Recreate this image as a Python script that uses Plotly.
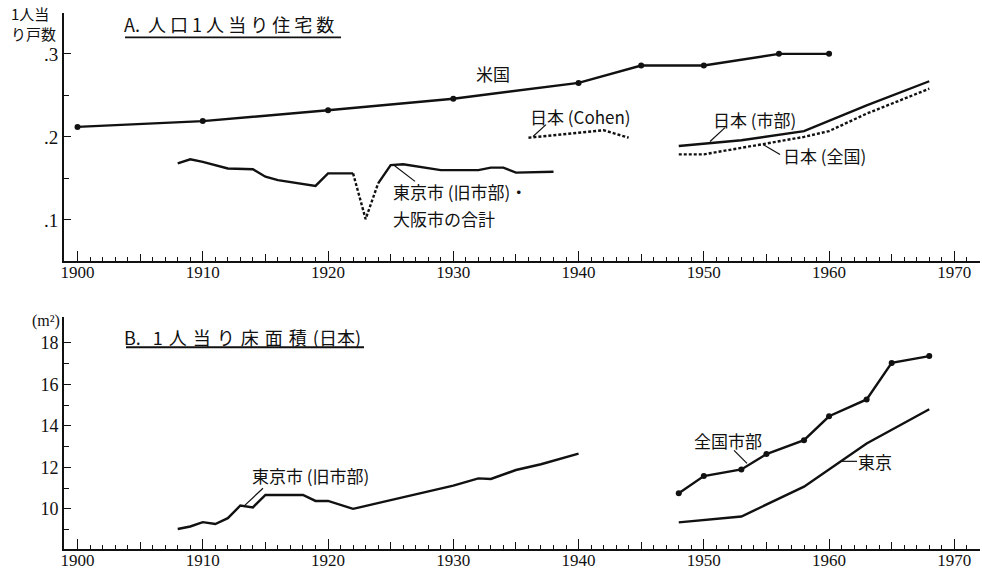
import plotly.graph_objects as go

# ---------------- Panel A: 人口1人当り住宅数 ----------------
us_years = [1900, 1910, 1920, 1930, 1940, 1945, 1950, 1956, 1960]
us_vals = [0.212, 0.219, 0.232, 0.246, 0.265, 0.286, 0.286, 0.300, 0.300]

cohen_years = [1936, 1938, 1940, 1942, 1944]
cohen_vals = [0.199, 0.202, 0.205, 0.208, 0.199]

jp_city_years = [1948, 1953, 1958, 1963, 1968]
jp_city_vals = [0.189, 0.196, 0.207, 0.238, 0.267]

jp_all_years = [1948, 1950, 1955, 1958, 1960, 1963, 1968]
jp_all_vals = [0.179, 0.179, 0.192, 0.200, 0.207, 0.228, 0.258]

to_years = [1908, 1909, 1910, 1912, 1914, 1915, 1916, 1919, 1920, 1922,
            1923, 1924, 1925, 1926, 1929, 1932, 1933, 1934, 1935, 1938]
to_vals = [0.168, 0.173, 0.170, 0.162, 0.161, 0.152, 0.148, 0.141, 0.156, 0.156,
           0.101, 0.144, 0.166, 0.167, 0.160, 0.160, 0.163, 0.163, 0.157, 0.158]
to_gap_start = 1922   # dotted section (1923 earthquake)
to_gap_end = 1924

# ---------------- Panel B: 1人当り床面積 ----------------
tko_old_years = [1908, 1909, 1910, 1911, 1912, 1913, 1914, 1915, 1918, 1919,
                 1920, 1922, 1925, 1928, 1930, 1932, 1933, 1935, 1937, 1940]
tko_old_vals = [9.03, 9.15, 9.36, 9.27, 9.55, 10.16, 10.07, 10.67, 10.67, 10.38,
                10.38, 10.0, 10.42, 10.86, 11.12, 11.47, 11.44, 11.87, 12.15, 12.66]

nat_city_years = [1948, 1950, 1953, 1955, 1958, 1960, 1963, 1965, 1968]
nat_city_vals = [10.75, 11.58, 11.9, 12.64, 13.31, 14.46, 15.27, 17.03, 17.36]

tokyo_years = [1948, 1953, 1958, 1963, 1968]
tokyo_vals = [9.35, 9.63, 11.07, 13.15, 14.8]

x_ticks = [1900, 1910, 1920, 1930, 1940, 1950, 1960, 1970]
a_ticks = [0.1, 0.2, 0.3]
a_ticktext = [".1", ".2", ".3"]
b_ticks = [10, 12, 14, 16, 18]

W, H = 982, 572
ML, MR, MT, MB = 64, 2, 13, 21
PW, PH = W - ML - MR, H - MT - MB


def px(x):
    return (x - ML) / PW


def py(y):
    return 1 - (y - MT) / PH


INK = "#111111"
SERIF = "Liberation Serif"
CJK = "Noto Sans CJK JP"

fig = go.Figure()

solid = dict(color=INK, width=2.4)
dotted = dict(color=INK, width=2.4, dash="3px,2px")

# Panel A traces
fig.add_trace(go.Scatter(x=us_years, y=us_vals, mode="lines+markers", line=solid,
                         marker=dict(size=6, color=INK), xaxis="x", yaxis="y"))
fig.add_trace(go.Scatter(x=cohen_years, y=cohen_vals, mode="lines", line=dotted,
                         xaxis="x", yaxis="y"))
fig.add_trace(go.Scatter(x=jp_city_years, y=jp_city_vals, mode="lines", line=solid,
                         xaxis="x", yaxis="y"))
fig.add_trace(go.Scatter(x=jp_all_years, y=jp_all_vals, mode="lines", line=dotted,
                         xaxis="x", yaxis="y"))
i0 = to_years.index(to_gap_start)
i1 = to_years.index(to_gap_end)
fig.add_trace(go.Scatter(x=to_years[:i0 + 1], y=to_vals[:i0 + 1], mode="lines",
                         line=solid, xaxis="x", yaxis="y"))
fig.add_trace(go.Scatter(x=to_years[i0:i1 + 1], y=to_vals[i0:i1 + 1], mode="lines",
                         line=dotted, xaxis="x", yaxis="y"))
fig.add_trace(go.Scatter(x=to_years[i1:], y=to_vals[i1:], mode="lines",
                         line=solid, xaxis="x", yaxis="y"))

# Panel B traces
fig.add_trace(go.Scatter(x=tko_old_years, y=tko_old_vals, mode="lines", line=solid,
                         xaxis="x2", yaxis="y2"))
fig.add_trace(go.Scatter(x=nat_city_years, y=nat_city_vals, mode="lines+markers",
                         line=solid, marker=dict(size=6, color=INK),
                         xaxis="x2", yaxis="y2"))
fig.add_trace(go.Scatter(x=tokyo_years, y=tokyo_vals, mode="lines", line=solid,
                         xaxis="x2", yaxis="y2"))

# invisible traces for the 5-year tick overlay axes
fig.add_trace(go.Scatter(x=[1900], y=[None], xaxis="x3", yaxis="y", showlegend=False))
fig.add_trace(go.Scatter(x=[1900], y=[None], xaxis="x4", yaxis="y2", showlegend=False))

XR = [1898.92, 1972.05]
yA = [1 - (261.7 - MT) / PH, 1.0]
yB = [0.0, 1 - (318 - MT) / PH]

xbase = dict(range=XR, showgrid=False, zeroline=False, showline=True,
             linecolor=INK, linewidth=2, ticks="inside", tickcolor=INK,
             tickwidth=1.3, ticklen=10, tickmode="array", tickvals=x_ticks,
             ticklabelstandoff=-5,
             tickfont=dict(family=SERIF, size=17, color=INK),
             minor=dict(dtick=1, tick0=1900, ticks="inside", ticklen=4,
                        tickcolor=INK, tickwidth=1.1))
x5 = dict(range=XR, showgrid=False, zeroline=False, showline=False,
          ticks="inside", tickcolor=INK, tickwidth=1.2, ticklen=7,
          tickmode="linear", tick0=1905, dtick=10, showticklabels=False)

fig.update_layout(
    width=W, height=H,
    margin=dict(l=ML, r=MR, t=MT, b=MB),
    paper_bgcolor="white", plot_bgcolor="white",
    showlegend=False,
    xaxis=dict(xbase, anchor="y", domain=[0, 1]),
    xaxis2=dict(xbase, anchor="y2", domain=[0, 1]),
    xaxis3=dict(x5, anchor="y", overlaying="x"),
    xaxis4=dict(x5, anchor="y2", overlaying="x2"),
    yaxis=dict(domain=yA, range=[0.0508, 0.3492], anchor="x", showgrid=False,
               zeroline=False, showline=True, linecolor=INK, linewidth=2,
               ticks="inside", ticklen=7, tickcolor=INK, tickwidth=1.3,
               tickmode="array", tickvals=a_ticks, ticktext=a_ticktext,
               tickfont=dict(family=SERIF, size=19, color=INK),
               minor=dict(tickvals=[0.15, 0.25], ticks="inside", ticklen=5,
                          tickcolor=INK, tickwidth=1.2)),
    yaxis2=dict(domain=yB, range=[8.065, 19.25], anchor="x2", showgrid=False,
                zeroline=False, showline=True, linecolor=INK, linewidth=2,
                ticks="inside", ticklen=7, tickcolor=INK, tickwidth=1.3,
                tickmode="array", tickvals=b_ticks,
                tickfont=dict(family=SERIF, size=18, color=INK),
                minor=dict(tickvals=[9, 11, 13, 15, 17], ticks="inside",
                           ticklen=5, tickcolor=INK, tickwidth=1.2)),
)

anns = []


def label(text, x, y, size=17, font=CJK, xanchor="left"):
    anns.append(dict(text=text, x=px(x), y=py(y), xref="paper", yref="paper",
                     xanchor=xanchor, yanchor="middle", showarrow=False,
                     font=dict(family=font, size=size, color=INK)))


shapes = []


def seg(x0, y0, x1, y1, w=1.2):
    shapes.append(dict(type="line", xref="paper", yref="paper",
                       x0=px(x0), y0=py(y0), x1=px(x1), y1=py(y1),
                       line=dict(color=INK, width=w)))


SP = "\u2004"
# Panel A texts
label("A.  " + " ".join("人口1人当り住宅数"), 122, 24, size=18)
seg(125, 37.5, 341, 37.5, w=1.8)
anns.append(dict(text="1人当<br>り戸数", x=px(58), y=py(24), xref="paper",
                 yref="paper", xanchor="right", yanchor="middle", align="left",
                 showarrow=False, font=dict(family=CJK, size=15, color=INK)))
label("米国", 474, 74)
label("日本 (Cohen)", 528, 117)
seg(546, 125, 533, 137)
label("日本 (市部)", 711, 120)
seg(725, 128, 710, 142)
label("日本 (全国)", 781, 156)
seg(763, 145, 780, 155)
label("東京市 (旧市部)・", 391, 192)
label("大阪市の合計", 391, 219)
seg(393, 165, 415, 182)

# Panel B texts
label("B." + SP + SP + SP.join("1人当り床面積") + SP + "(日本)", 122, 338, size=18)
seg(126, 348.5, 364, 348.5, w=1.8)
label("(m²)", 62, 322, size=16, font=SERIF, xanchor="right")
label("東京市 (旧市部)", 250, 477)
seg(263, 490, 245, 507)
label("全国市部", 692, 442)
seg(734, 452, 747, 465)
label("東京", 856, 463)
seg(842, 463, 857, 463)

fig.update_layout(annotations=anns, shapes=shapes)

fig.write_html("out.html",
               config={"displayModeBar": False},
               post_script="document.body.style.margin='0';"
                           "document.body.style.padding='0';")
